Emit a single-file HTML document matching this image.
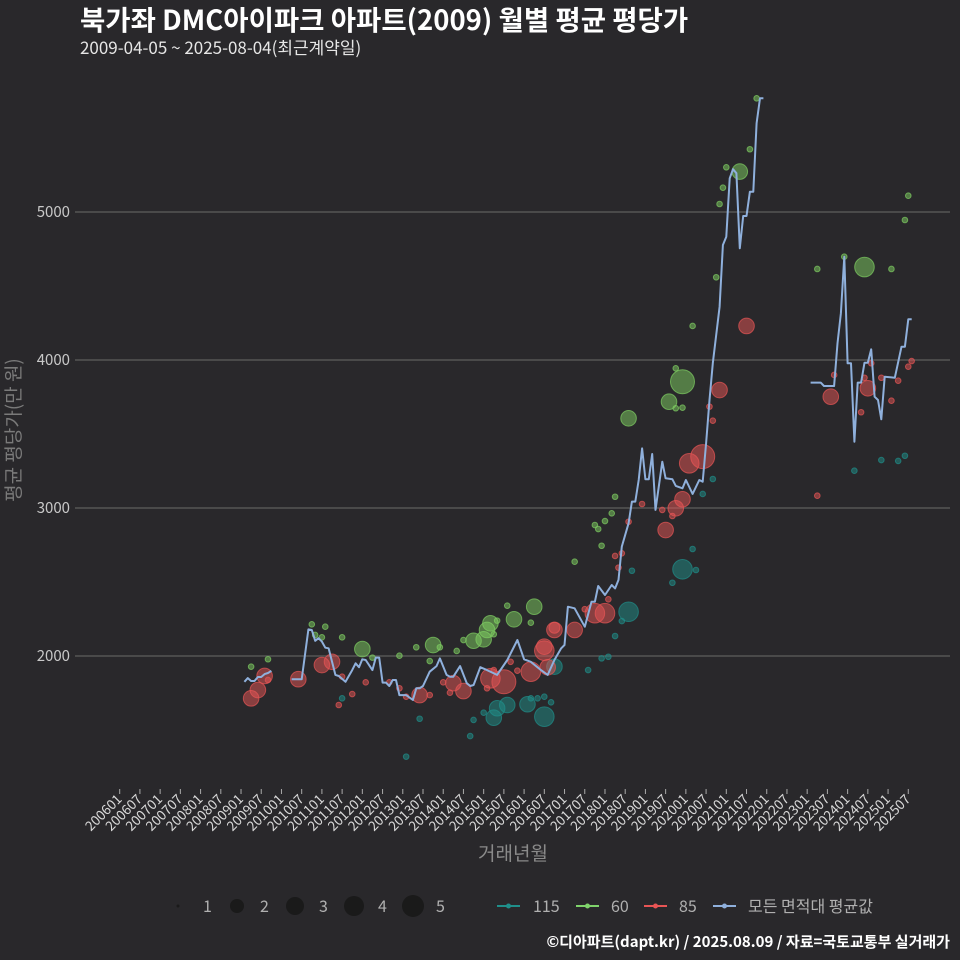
<!DOCTYPE html>
<html><head><meta charset="utf-8">
<style>
html,body{margin:0;padding:0;background:#29282b;}
svg{display:block;font-family:"Noto Sans CJK KR","Liberation Sans",sans-serif;}
</style></head>
<body>
<svg id="chart" width="960" height="960" viewBox="0 0 960 960" xmlns="http://www.w3.org/2000/svg">
<rect width="960" height="960" fill="#29282b"/>
<text x="80" y="30" fill="#ffffff" font-size="27.5" font-weight="bold">북가좌 DMC아이파크 아파트(2009) 월별 평균 평당가</text>
<text x="80" y="54" fill="#e6e6e6" font-size="17">2009-04-05 ~ 2025-08-04(최근계약일)</text>
<g id="grid"></g>
<g id="yticks"></g>
<g id="xticks"></g>
<g id="bubbles"></g>
<g id="line"></g>
<text x="20" y="430" fill="#7a7a7a" font-size="19" text-anchor="middle" transform="rotate(-90 20 430)">평균 평당가(만 원)</text>
<text x="513" y="860" fill="#8a8a8a" font-size="19" text-anchor="middle">거래년월</text>
<g id="legend"></g>
<text x="950" y="947" fill="#ffffff" font-size="15" font-weight="bold" text-anchor="end">©디아파트(dapt.kr) / 2025.08.09 / 자료=국토교통부 실거래가</text>
</svg>
<script>
const yTicks=[2000,3000,4000,5000];
const xTickLabels=["200601","200607","200701","200707","200801","200807","200901","200907","201001","201007","201101","201107","201201","201207","201301","201307","201401","201407","201501","201507","201601","201607","201701","201707","201801","201807","201901","201907","202001","202007","202101","202107","202201","202207","202301","202307","202401","202407","202501","202507"];
const lineMonths=["200902","200903","200904","200905","200906","200907","200908","200909","200910",null,"201004","201007","201009","201010","201011","201012","201101","201102","201103","201105","201106","201108","201110","201111","201112","201201","201202","201204","201205","201206","201207","201208","201209","201210","201211","201212","201302","201304","201305","201306","201307","201309","201311","201312","201402","201403","201404","201406","201408","201409","201410","201412","201502","201505","201508","201511","201601","201603","201606","201608","201610","201612","201701","201702","201704","201707","201709","201710","201711","201801","201803","201804","201805","201806","201808","201809","201810","201811","201812","201901","201902","201903","201904","201906","201907","201909","201910","201912","202001","202003","202005","202006","202007","202008","202009","202011","202012","202101","202102","202103","202104","202105","202106","202107","202108","202109","202110","202111","202112",null,"202302","202305","202306","202309","202310","202311","202312","202401","202402","202403","202404","202405","202406","202407","202408","202409","202410","202411","202412","202503","202505","202506","202507","202508"];
const lineValues=[1826,1851,1831,1831,1858,1858,1878,1885,1899,null,1843,1843,2180,2176,2103,2120,2097,2056,2052,1872,1865,1826,1905,1951,1924,1978,1973,1905,1989,1989,1820,1820,1797,1838,1838,1736,1736,1703,1782,1782,1797,1894,1932,1984,1872,1860,1860,1932,1816,1797,1804,1924,1905,1872,1973,2108,1978,1961,1905,1872,1973,2052,2074,2333,2322,2198,2367,2367,2473,2412,2480,2457,2514,2739,2897,3043,3043,3189,3403,3194,3194,3365,2987,3313,3201,3194,3149,3133,3189,3095,3189,3178,3437,3730,3978,4360,4777,4833,5228,5289,5262,4755,4973,4973,5137,5137,5600,5768,5768,null,3847,3847,3824,3824,4113,4316,4698,3978,3978,3448,3847,3847,3982,3982,4072,3752,3730,3599,3887,3880,4090,4090,4275,4275];
const greenMonths=["200904","200909","201010","201102","201011","201101","201107","201201","201204","201212","201305","201309","201310","201312","201405","201407","201410","201501","201502","201503","201505","201504","201508","201510","201604","201603","201704","201710","201711","201712","201801","201803","201804","201808","201908","201910","201912","201910","201912","202003","202010","202011","202012","202101","202105","202108","202110","202304","202312","202406","202502","202506","202507"];
const greenValues=[1928,1978,2214,2198,2142,2126,2126,2047,1989,2002,2059,1966,2074,2059,2034,2108,2103,2113,2176,2221,2239,2147,2340,2248,2333,2225,2637,2885,2858,2745,2912,2964,3076,3606,3718,3944,3853,3674,3678,4230,4559,5054,5164,5302,5273,5424,5768,4615,4698,4628,4615,4946,5110];
const greenCounts=[1,1,1,1,1,1,1,3,1,1,1,1,3,1,1,1,3,3,3,3,1,1,1,3,3,1,1,1,1,1,1,1,1,3,3,1,5,1,1,1,1,1,1,1,3,1,1,1,1,4,1,1,1];
const redMonths=["200904","200906","200908","200909","201006","201101","201104","201107","201106","201110","201202","201209","201212","201302","201306","201309","201401","201404","201407","201403","201502","201503","201507","201504","201509","201511","201603","201607","201610","201608","201607","201707","201704","201710","201801","201802","201804","201806","201805","201808","201812","201906","201907","201909","201910","201912","202002","202006","202008","202009","202011","202107","202304","202308","202309","202405","202406","202407","202408","202411","202502","202504","202507","202508","201610"];
const redValues=[1714,1770,1865,1838,1843,1939,1961,1860,1669,1743,1822,1822,1782,1725,1736,1736,1822,1816,1763,1752,1782,1849,1826,1905,1961,1901,1894,2036,2191,1924,2063,2316,2176,2289,2289,2383,2676,2694,2597,2907,3027,2987,2851,2946,2998,3059,3302,3347,3685,3590,3797,4230,3083,3752,3899,3647,3880,3809,3978,3880,3725,3860,3955,3993,2176];
const redCounts=[3,3,3,1,3,3,3,1,1,1,1,1,1,1,3,1,1,3,3,1,1,4,5,1,1,1,4,4,2,3,3,1,3,4,4,1,1,1,1,1,1,1,3,1,3,3,4,5,1,1,3,3,1,3,1,1,1,3,1,1,1,1,1,1,3];
const tealMonths=["201107","201306","201302","201409","201410","201501","201504","201505","201508","201602","201603","201605","201607","201609","201610","201607","201708","201712","201802","201804","201806","201808","201809","201909","201912","202003","202004","202006","202009","202403","202411","202504","202506"];
const tealValues=[1714,1576,1320,1459,1568,1617,1583,1647,1669,1674,1714,1714,1590,1687,1928,1725,1905,1984,1995,2135,2236,2299,2576,2495,2586,2723,2581,3095,3196,3252,3324,3318,3353];
const tealCounts=[1,1,1,1,1,1,3,3,3,3,1,1,4,1,3,1,1,1,1,1,1,4,1,1,4,1,1,1,1,1,1,1,1];

const NS="http://www.w3.org/2000/svg";
function mk(tag,attrs,parent){const e=document.createElementNS(NS,tag);for(const k in attrs)e.setAttribute(k,attrs[k]);parent.appendChild(e);return e;}
function monthIndex(s){return (parseInt(s.slice(0,4))-2006)*12+parseInt(s.slice(4,6))-1;}
function xScale(s){return 119.7+monthIndex(s)*3.37;}
function yScale(v){return 656-(v-2000)*0.148;}
function rScale(c){return [0,2.8,5.5,7.8,9.8,12][c];}

const grid=document.getElementById('grid'),yt=document.getElementById('yticks');
yTicks.forEach(v=>{
  const l=mk('line',{x1:75,x2:950,y1:yScale(v),y2:yScale(v),stroke:'#5e5e5e','stroke-width':1.2},grid);
  
  
  const t=mk('text',{x:70,y:yScale(v)+5,fill:'#c8c8c8','font-size':15,'text-anchor':'end'},yt);
  t.textContent=v;
  
  
});
const xt=document.getElementById('xticks');
xTickLabels.forEach(s=>{
  const x=xScale(s);
  const l=mk('line',{x1:x,x2:x,y1:789,y2:794,stroke:'#aaaaaa','stroke-width':1},xt);
  
  
  const t=mk('text',{x:x+3,y:800,fill:'#d8d8d8','font-size':13.5,'text-anchor':'end',transform:`rotate(-45 ${x+3} 800)`},xt);
  t.textContent=s;
  
  
});
const bub=document.getElementById('bubbles');
function drawBubbles(months,vals,counts,color,name){
  months.forEach((m,i)=>{
    const c=mk('circle',{cx:xScale(m),cy:yScale(vals[i]),r:rScale(counts[i]),fill:color,'fill-opacity':0.5,stroke:color,'stroke-opacity':0.7,'stroke-width':1},bub);
    
    
  });
}
drawBubbles(tealMonths,tealValues,tealCounts,'#1f8f8a','area-115');
drawBubbles(redMonths,redValues,redCounts,'#e85555','area-85');
drawBubbles(greenMonths,greenValues,greenCounts,'#7fcf62','area-60');
const lg=document.getElementById('line');
let d='',pen=false;
lineMonths.forEach((m,i)=>{
  if(m===null||lineValues[i]===null){pen=false;return;}
  d+=(pen?'L':'M')+xScale(m).toFixed(1)+' '+yScale(lineValues[i]).toFixed(1)+' ';pen=true;
});
const p=mk('path',{d:d,fill:'none',stroke:'#8fb0dc','stroke-width':2,'stroke-linejoin':'round'},lg);



const leg=document.getElementById('legend');
const sizeLabels=[1,2,3,4,5];
const sizeX=[178,237,295,354,413];
const sizeLX=[203,260,319,378,436];
sizeLabels.forEach((s,i)=>{
  const c=mk('circle',{cx:sizeX[i],cy:906,r:[1.5,7,9,10,11][i],fill:'#1a1a1a'},leg);
  
  
  const t=mk('text',{x:sizeLX[i],y:912,fill:'#b0b0b0','font-size':16,'text-anchor':'start'},leg);
  t.textContent=s;
  
  
});
const serNames=['115','60','85','모든 면적대 평균값'];
const serColors=['#1f8f8a','#7fd36b','#e85555','#8fb0dc'];
const serX=[497,576,644,713];
const serTX=[533,611,679,748];
serNames.forEach((n,i)=>{
  const l=mk('line',{x1:serX[i],x2:serX[i]+23,y1:906,y2:906,stroke:serColors[i],'stroke-width':2},leg);
  
  
  const c=mk('circle',{cx:serX[i]+11.5,cy:906,r:2.5,fill:serColors[i]},leg);
  
  
  const t=mk('text',{x:serTX[i],y:912,fill:'#b0b0b0','font-size':16},leg);
  t.textContent=n;
  
  
});
</script>
</body></html>
